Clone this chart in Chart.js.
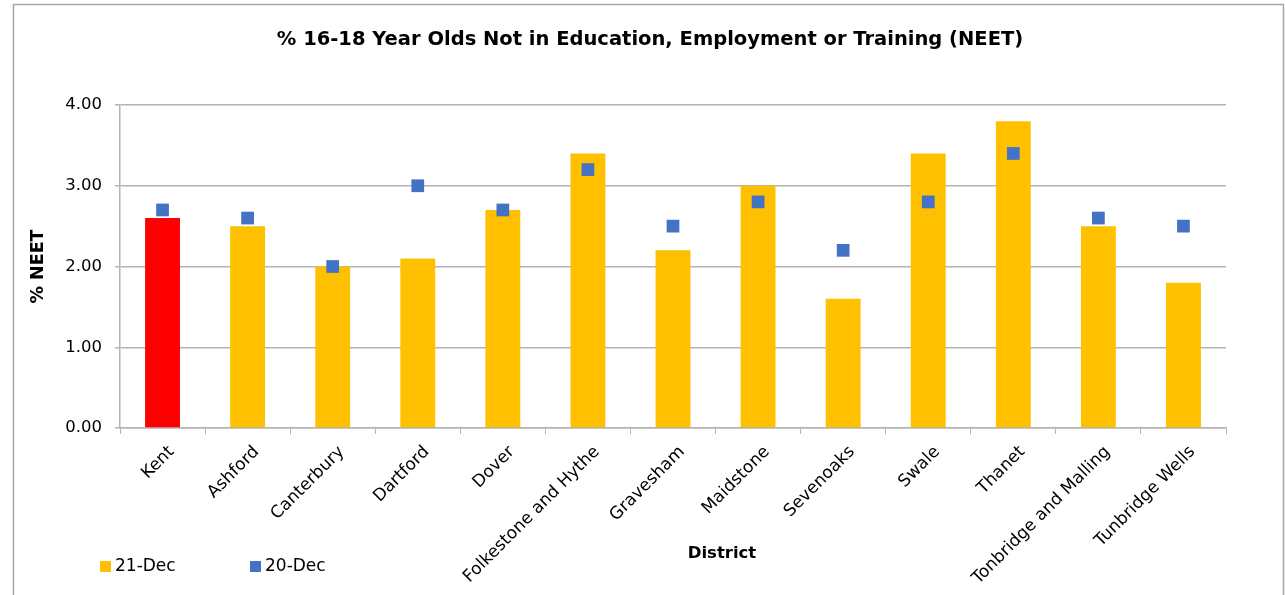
<!DOCTYPE html>
<html>
<head>
<meta charset="utf-8">
<title>NEET by district</title>
<script src="https://cdn.jsdelivr.net/npm/chart.js@4.4.1/dist/chart.umd.min.js"></script>
<style>
  html, body { margin: 0; padding: 0; background: #fff; }
  #wrap { width: 1285px; height: 595px; position: relative; }
</style>
</head>
<body>
<div id="wrap"><canvas id="neet" width="1285" height="595"></canvas></div>
<script>
// districts along the x axis
var districts = ["Kent", "Ashford", "Canterbury", "Dartford", "Dover", "Folkestone and Hythe",
  "Gravesham", "Maidstone", "Sevenoaks", "Swale", "Thanet", "Tonbridge and Malling", "Tunbridge Wells"];

// % NEET, Dec 2021 (bars) and Dec 2020 (markers)
var dec21 = [2.6, 2.5, 2.0, 2.1, 2.7, 3.4, 2.2, 3.0, 1.6, 3.4, 3.8, 2.5, 1.8];
var dec20 = [2.7, 2.6, 2.0, 3.0, 2.7, 3.2, 2.5, 2.8, 2.2, 2.8, 3.4, 2.6, 2.5];

var yTicks = [0, 1, 2, 3, 4];

var FONT = "'DejaVu Sans', Verdana, sans-serif";
var GOLD = "#FFC000", RED = "#FF0000", BLUE = "#4472C4", GRID = "#b3b3b3";

// Kent is the county total, shown in red
var barColours = districts.map(function(d){ return d == "Kent" ? RED : GOLD; });

// draws the frame, title, x title and the little legend at bottom left
var extras = {
  id: "extras",
  afterDraw: function(chart){
    var c = chart.ctx;
    c.save();
    c.strokeStyle = "#a6a6a6";
    c.lineWidth = 1.5;
    c.strokeRect(13.5, 4.5, 1270, 600);

    c.fillStyle = "#000";
    c.textAlign = "center";
    c.textBaseline = "middle";
    c.font = "bold 19.5px " + FONT;
    c.fillText("% 16-18 Year Olds Not in Education, Employment or Training (NEET)", 650, 40);

    c.font = "bold 16.5px " + FONT;
    c.fillText("District", 722, 554);

    // legend
    var ds = chart.data.datasets;
    var lx = [100, 250];
    c.font = "17px " + FONT;
    c.textAlign = "left";
    for (var i = 0; i < ds.length; i++) {
      c.fillStyle = i == 0 ? GOLD : BLUE;
      c.fillRect(lx[i], 561, 11, 11);
      c.fillStyle = "#000";
      c.fillText(ds[i].label, lx[i] + 15, 567);
    }
    c.restore();
  }
};

new Chart(document.getElementById("neet"), {
  type: "bar",
  data: {
    labels: districts,
    datasets: [{
      label: "21-Dec",
      data: dec21,
      backgroundColor: barColours,
      barPercentage: 0.41,
      categoryPercentage: 1,
      order: 2
    }, {
      type: "line",
      label: "20-Dec",
      data: dec20,
      showLine: false,
      pointStyle: "rect",
      pointRadius: 9,
      pointHoverRadius: 9,
      pointBackgroundColor: BLUE,
      pointBorderColor: BLUE,
      pointBorderWidth: 0,
      order: 1
    }]
  },
  options: {
    responsive: false,
    animation: false,
    layout: { padding: { left: 0, right: 59, top: 105, bottom: 0 } },
    plugins: {
      legend: { display: false },
      title: { display: false },
      tooltip: { enabled: false }
    },
    scales: {
      x: {
        offset: true,
        grid: { display: true, drawOnChartArea: false, offset: true, tickLength: 6, color: GRID },
        border: { color: GRID, width: 1.5 },
        ticks: {
          color: "#000",
          font: { family: FONT, size: 17 },
          minRotation: 45, maxRotation: 45,
          autoSkip: false,
          padding: 8,
          labelOffset: 9
        },
        afterFit: function(s){ s.height = 595 - 428; }
      },
      y: {
        min: 0, max: 4,
        afterBuildTicks: function(s){ s.ticks = yTicks.map(function(v){ return { value: v }; }); },
        grid: { color: GRID, lineWidth: 1.5, tickLength: 5 },
        border: { color: GRID, width: 1.5 },
        ticks: {
          color: "#000",
          font: { family: FONT, size: 16.5 },
          padding: 13,
          callback: function(v){ return v.toFixed(2); }
        },
        title: {
          display: true,
          text: "% NEET",
          color: "#000",
          font: { family: FONT, size: 17.5, weight: "bold" },
          padding: { top: 28, bottom: 0 }
        },
        afterFit: function(s){ s.width = 120; }
      }
    }
  },
  plugins: [extras]
});
</script>
</body>
</html>
